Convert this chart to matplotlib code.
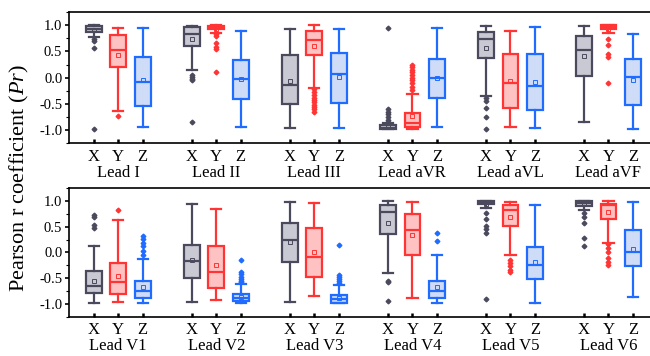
import numpy as np
import matplotlib.pyplot as plt
from matplotlib.ticker import MultipleLocator
import matplotlib.transforms as mtransforms

plt.rcParams['font.family'] = ['Liberation Serif', 'DejaVu Serif']
plt.rcParams['mathtext.fontset'] = 'custom'
plt.rcParams['mathtext.it'] = 'Liberation Serif:italic'

leads = ['Lead I', 'Lead II', 'Lead III', 'Lead aVR', 'Lead aVL', 'Lead aVF',
         'Lead V1', 'Lead V2', 'Lead V3', 'Lead V4', 'Lead V5', 'Lead V6']
axes_names = ['X', 'Y', 'Z']

# per lead: (X, Y, Z)
q1 = [(0.87, 0.20, -0.545), (0.60, 0.93, -0.40), (-0.51, 0.44, -0.49),
      (-0.99, -0.94, -0.38), (0.37, -0.58, -0.61), (0.04, 0.92, -0.53),
      (-0.79, -0.80, -0.88), (-0.50, -0.70, -0.95), (-0.19, -0.47, -0.98),
      (0.35, -0.05, -0.89), (0.93, 0.51, -0.51), (0.90, 0.64, -0.26)]
med = [(0.92, 0.53, -0.08), (0.84, 0.96, -0.03), (-0.15, 0.72, 0.06),
       (-0.96, -0.87, 0.00), (0.73, -0.10, -0.16), (0.53, 0.96, 0.01),
       (-0.65, -0.58, -0.74), (-0.17, -0.38, -0.88), (0.24, -0.08, -0.90),
       (0.78, 0.43, -0.75), (0.96, 0.83, -0.24), (0.95, 0.91, 0.00)]
q3 = [(0.98, 0.81, 0.40), (0.97, 0.99, 0.34), (0.44, 0.88, 0.47),
      (-0.91, -0.67, 0.36), (0.87, 0.46, 0.46), (0.79, 1.00, 0.35),
      (-0.37, -0.21, -0.56), (0.15, 0.13, -0.81), (0.58, 0.48, -0.83),
      (0.91, 0.74, -0.55), (0.99, 0.91, 0.11), (0.99, 0.94, 0.44)]
wlo = [(0.77, -0.635, -0.94), (0.14, 0.86, -0.94), (-0.96, -0.20, -0.97),
       (-0.99, -0.99, -0.94), (-0.35, -0.94, -0.96), (-0.84, 0.85, -0.99),
       (-0.98, -0.97, -0.98), (-0.97, -0.93, -0.98), (-0.97, -0.85, -0.99),
       (-0.40, -0.88, -0.98), (0.87, -0.06, -0.98), (0.83, 0.19, -0.87)]
whi = [(1.00, 0.955, 0.95), (0.99, 1.00, 0.88), (0.92, 1.00, 0.93),
       (-0.86, -0.31, 0.94), (0.99, 0.88, 0.97), (0.98, 1.00, 0.84),
       (0.13, 0.62, -0.12), (0.93, 0.85, -0.62), (0.97, 0.95, -0.64),
       (1.00, 0.97, -0.05), (1.00, 0.98, 0.91), (1.00, 1.00, 0.97)]
means = [(0.90, 0.43, -0.04), (0.74, 0.93, -0.02), (-0.06, 0.60, 0.01),
         (-0.94, -0.74, 0.00), (0.57, -0.07, -0.08), (0.41, 0.93, -0.04),
         (-0.56, -0.45, -0.67), (-0.15, -0.24, -0.86), (0.20, 0.00, -0.88),
         (0.58, 0.34, -0.68), (0.94, 0.69, -0.18), (0.93, 0.78, 0.06)]
fliers = [
    ([0.73, 0.70, 0.57, -0.98], [-0.73], []),
    ([0.05, 0.02, -0.02, -0.05, -0.85], [0.84, 0.80, 0.66, 0.58, 0.54, 0.11], []),
    ([], [-0.22, -0.28, -0.33, -0.38, -0.42, -0.47, -0.52, -0.56, -0.60, -0.65], []),
    ([-0.60, -0.65, -0.70, -0.75, -0.80, -0.84, 0.94],
     [-0.23, -0.17, -0.11, -0.05, 0.0, 0.05, 0.10, 0.15, 0.20, 0.25], []),
    ([-0.38, -0.44, -0.58, -0.76, -0.99], [], []),
    ([], [0.74, 0.63, 0.46, 0.39, -0.11], []),
    ([0.72, 0.68, 0.53, 0.48], [0.83], [-0.06, 0.02, 0.12, 0.19, 0.26, 0.32]),
    ([], [], [-0.14, -0.38, -0.42, -0.47, -0.51, -0.55, -0.58]),
    ([], [], [0.14, -0.43, -0.48, -0.52, -0.56, -0.60]),
    ([-0.55, -0.58, -0.95], [], [0.37, 0.22]),
    ([0.77, 0.64, 0.51, 0.45, 0.37, -0.90], [-0.15, -0.21, -0.27, -0.34, -0.38], []),
    ([0.77, 0.69, 0.58, 0.27, 0.12], [0.16, 0.09, 0.0, -0.10, -0.18, -0.24], []),
]

edge_colors = ['#4a4a5c', '#ff3535', '#1f6cff']
face_colors = ['#c9c9d4', '#ffc2c2', '#cfdcf8']

fig = plt.figure(figsize=(6.5, 3.56), dpi=100)
ax_top = fig.add_axes([0.1065, 0.598, 0.905, 0.368])
ax_bot = fig.add_axes([0.1065, 0.110, 0.905, 0.362])

for row, ax in enumerate([ax_top, ax_bot]):
    for g in range(6):
        li = row * 6 + g
        for k in range(3):
            stats = [dict(med=med[li][k], q1=q1[li][k], q3=q3[li][k],
                          whislo=wlo[li][k], whishi=whi[li][k],
                          mean=means[li][k], fliers=fliers[li][k])]
            pos = g * 4 + k + 1
            ec = edge_colors[k]
            ax.bxp(stats, positions=[pos], widths=0.64, patch_artist=True,
                   showmeans=True,
                   boxprops=dict(facecolor=face_colors[k], edgecolor=ec, linewidth=1.6),
                   medianprops=dict(color=ec, linewidth=1.6),
                   whiskerprops=dict(color=ec, linewidth=1.6),
                   capprops=dict(color=ec, linewidth=1.6),
                   capwidths=0.42,
                   meanprops=dict(marker='s', markerfacecolor='none', markeredgecolor=ec,
                                  markersize=2.6, markeredgewidth=0.7),
                   flierprops=dict(marker='D', markerfacecolor=ec, markeredgecolor=ec,
                                   markersize=2.4))

    ax.set_xlim(0, 24)
    ax.set_ylim(-1.25, 1.25)
    ax.yaxis.set_minor_locator(MultipleLocator(0.25))
    ax.set_yticks([-1.0, -0.5, 0.0, 0.5, 1.0])
    ax.set_yticklabels(['-1.0', '-0.5', '0.0', '0.5', '1.0'], fontsize=10.5)
    xt = [g * 4 + k + 1 for g in range(6) for k in range(3)]
    ax.set_xticks(xt)
    ax.set_xticklabels(axes_names * 6, fontsize=12)
    ax.tick_params(axis='x', direction='in', length=3, width=1.8, pad=4)
    ax.tick_params(axis='y', which='major', direction='out', length=3, width=1.2, pad=2)
    ax.tick_params(axis='y', which='minor', direction='out', length=2, width=0.8)
    for sp in ax.spines.values():
        sp.set_linewidth(1.2)
    trans = mtransforms.blended_transform_factory(ax.transData, ax.transAxes)
    for g in range(6):
        ax.text(g * 4 + 2, -0.225, leads[row * 6 + g], transform=trans,
                ha='center', va='center', fontsize=12)

fig.text(0.03, 0.5, r'Pearson r coefficient ($Pr$)', rotation=90,
         ha='center', va='center', fontsize=16)

fig.savefig('out.png', dpi=100)
